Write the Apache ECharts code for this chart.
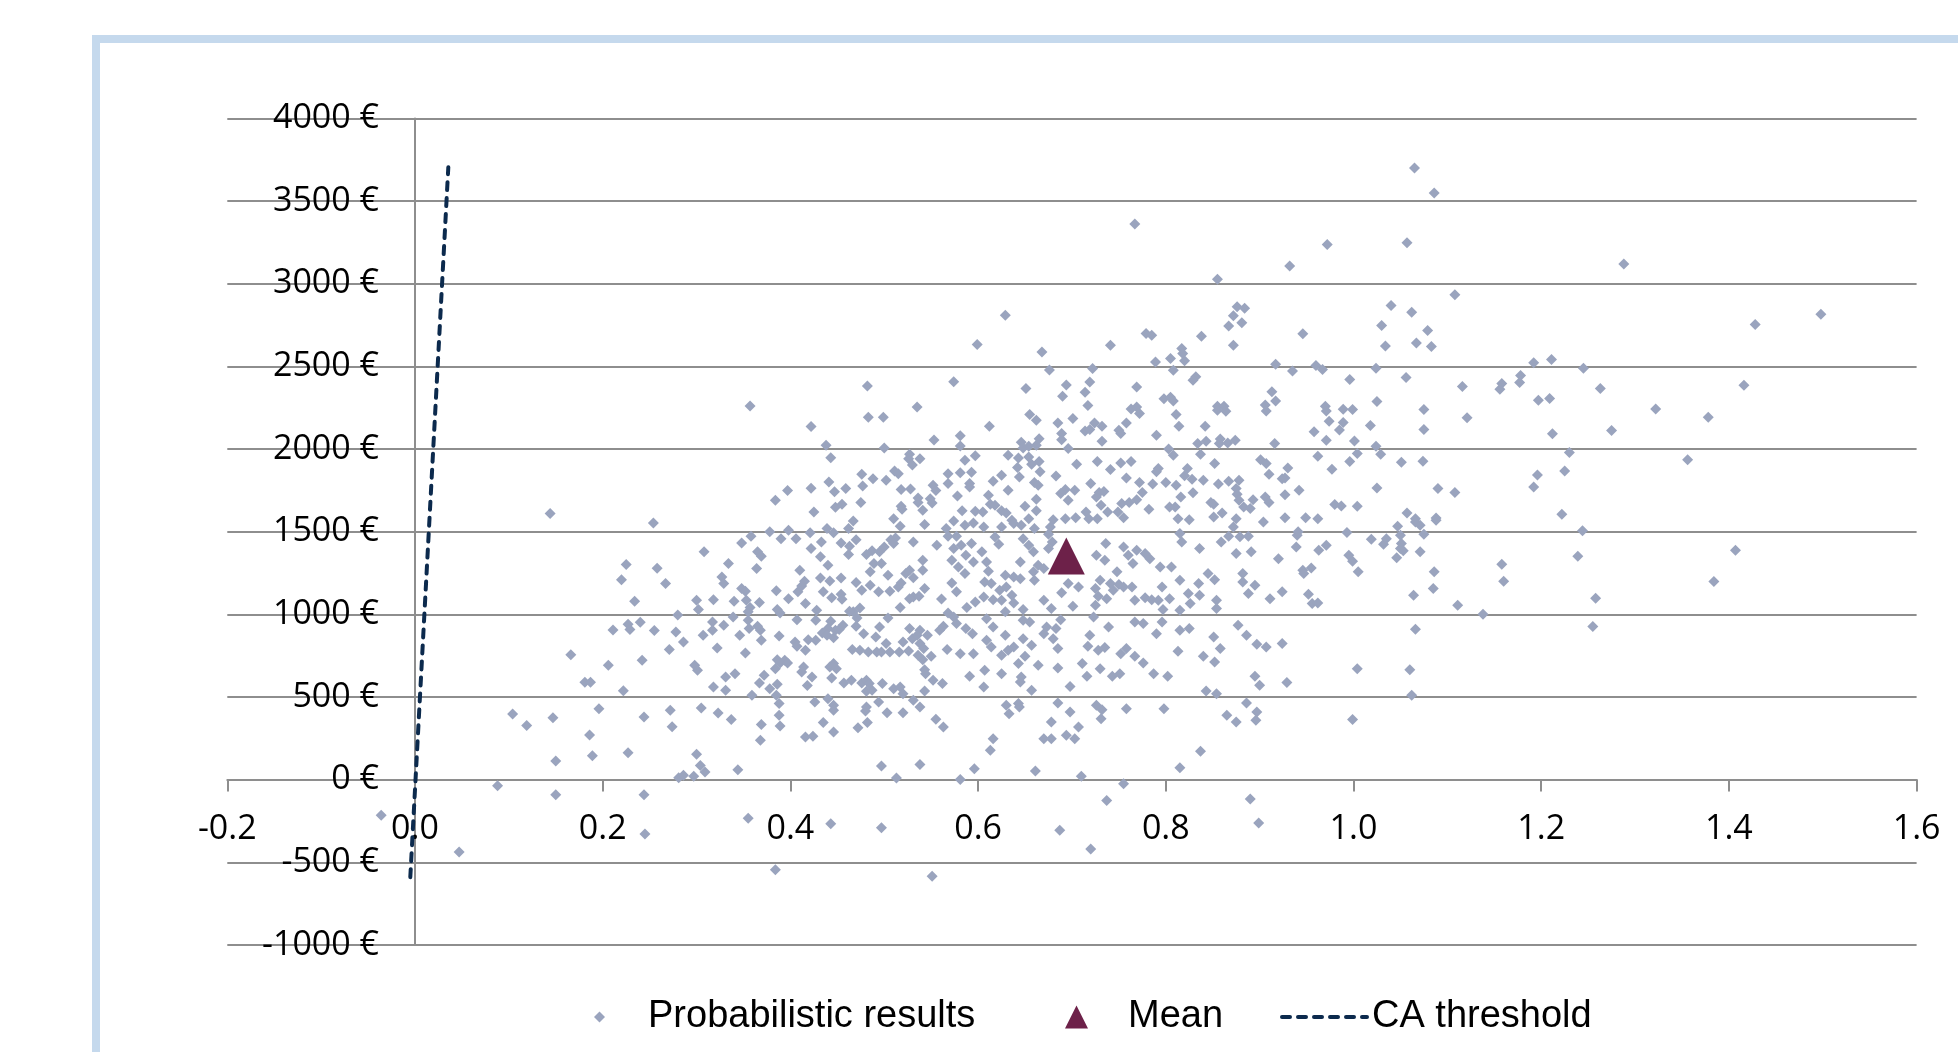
<!DOCTYPE html>
<html>
<head>
<meta charset="utf-8">
<title>Probabilistic results</title>
<script src="https://cdn.jsdelivr.net/npm/echarts@6/dist/echarts.min.js"></script>
<style>
  html, body { margin: 0; padding: 0; background: #fff; }
  #chart { width: 1958px; height: 1052px; }
</style>
</head>
<body>
<div id="chart"></div>
<script>
// one point per simulation run: [incremental effect, incremental cost]
const probResults = [
  [0.144,1610],[0.254,1552],[0.225,1301],[0.258,1279],[0.220,1210],[0.267,1186],[0.234,1079],[0.211,906],[0.227,940],[0.229,908],
  [0.240,952],[0.255,902],[0.280,996],[0.278,893],[0.271,787],[0.166,756],[0.242,722],[0.206,692],[0.181,589],[0.187,589],
  [0.222,538],[0.196,429],[0.104,397],[0.119,328],[0.147,375],[0.186,270],[0.244,379],[0.272,419],[0.274,320],[0.150,112],
  [0.189,145],[0.227,163],[0.281,12],[0.088,-37],[0.150,-91],[0.244,-91],[0.245,-329],[0.047,-438],[-0.036,-215],
  [0.599,2633],[0.574,2407],[0.482,2382],[0.357,2261],[0.535,2255],[0.483,2193],[0.499,2193],[0.422,2136],[0.581,2080],[0.553,2055],
  [0.438,2023],[0.500,2007],[0.581,2019],[0.443,1948],[0.527,1969],[0.526,1942],[0.538,1942],[0.597,1959],[0.586,1932],[0.530,1904],
  [0.476,1848],[0.511,1868],[0.515,1851],[0.568,1851],[0.581,1856],[0.593,1860],[0.488,1821],[0.502,1811],[0.441,1801],[0.568,1791],
  [0.591,1791],[0.591,1771],[0.477,1777],[0.422,1763],[0.459,1761],[0.397,1749],[0.447,1741],[0.518,1755],[0.528,1759],[0.552,1781],
  [0.555,1749],[0.384,1690],[0.578,1716],[0.475,1676],[0.536,1704],[0.536,1676],[0.549,1700],[0.551,1674],[0.448,1648],[0.455,1666],
  [0.518,1654],[0.519,1636],[0.425,1619],[0.541,1630],[0.583,1626],[0.597,1624],[0.467,1565],[0.510,1579],[0.574,1565],
  [0.767,3361],[0.855,3028],[0.876,2861],[0.884,2852],[0.872,2806],[0.629,2810],[0.867,2744],[0.881,2764],[0.779,2699],[0.785,2689],
  [0.838,2683],[0.741,2628],[0.872,2628],[0.668,2588],[0.817,2608],[0.818,2578],[0.820,2534],[0.805,2548],[0.789,2526],[0.917,2513],
  [0.676,2479],[0.722,2487],[0.808,2477],[0.832,2437],[0.829,2417],[0.719,2406],[0.694,2388],[0.651,2366],[0.769,2376],[0.714,2344],
  [0.690,2320],[0.913,2346],[0.798,2304],[0.805,2314],[0.808,2291],[0.917,2291],[0.717,2263],[0.763,2243],[0.769,2255],[0.772,2215],
  [0.855,2259],[0.862,2259],[0.855,2235],[0.864,2229],[0.906,2267],[0.907,2231],[0.655,2209],[0.662,2174],[0.701,2185],[0.811,2209],
  [0.685,2158],[0.612,2138],[0.724,2158],[0.732,2138],[0.758,2158],[0.814,2138],[0.842,2138],[0.714,2110],[0.719,2118],[0.750,2114],
  [0.752,2094],[0.689,2094],[0.689,2057],[0.790,2084],[0.665,2063],[0.732,2047],[0.834,2033],[0.843,2047],[0.858,2061],[0.857,2033],
  [0.866,2037],[0.874,2053],[0.916,2033],[0.646,2041],[0.648,2007],[0.654,2017],[0.662,2023],[0.696,2003],[0.803,2001],[0.808,1963],
  [0.837,1969],[0.632,1963],[0.643,1946],[0.654,1952],[0.657,1908],[0.665,1924],[0.705,1908],[0.727,1924],[0.752,1916],[0.763,1924],
  [0.852,1912],[0.901,1936],[0.907,1912],[0.642,1888],[0.666,1862],[0.683,1837],[0.741,1876],[0.758,1825],[0.792,1882],[0.790,1862],
  [0.823,1882],[0.820,1839],[0.828,1817],[0.910,1847],[0.644,1831],[0.625,1841],[0.616,1805],[0.660,1797],[0.664,1781],[0.720,1791],
  [0.772,1797],[0.786,1789],[0.800,1797],[0.811,1781],[0.840,1811],[0.856,1789],[0.867,1805],[0.878,1811],[0.875,1761],[0.632,1751],
  [0.611,1720],[0.693,1755],[0.688,1731],[0.703,1751],[0.729,1737],[0.734,1743],[0.726,1710],[0.775,1737],[0.816,1710],[0.829,1735],
  [0.876,1726],[0.878,1690],[0.893,1694],[0.906,1710],[0.910,1676],[0.662,1696],[0.696,1690],[0.613,1666],[0.618,1660],[0.650,1654],
  [0.731,1660],[0.753,1670],[0.761,1676],[0.769,1694],[0.804,1650],[0.810,1650],[0.848,1676],[0.851,1666],[0.883,1650],[0.890,1640],
  [0.625,1626],[0.630,1613],[0.662,1626],[0.715,1619],[0.738,1619],[0.749,1619],[0.782,1636],[0.860,1613],[0.605,1619],[0.654,1579],
  [0.680,1573],[0.693,1579],[0.704,1585],[0.718,1579],[0.727,1579],[0.755,1585],[0.813,1579],[0.825,1573],[0.851,1589],[0.875,1579],
  [0.636,1570],
  [1.065,3700],[1.086,3549],[0.972,3238],[1.057,3248],[0.932,3107],[1.108,2933],[1.040,2869],[1.062,2828],[1.030,2748],[1.079,2717],
  [0.946,2697],[1.067,2641],[1.034,2624],[1.083,2620],[0.935,2473],[0.960,2505],[0.967,2481],[1.024,2489],[0.996,2421],[1.056,2433],
  [1.116,2378],[1.156,2362],[1.158,2396],[1.177,2402],[1.178,2445],[1.192,2522],[1.211,2542],[1.025,2287],[1.197,2295],[1.209,2306],
  [0.970,2259],[0.971,2231],[0.989,2241],[0.999,2239],[1.075,2239],[1.121,2189],[0.974,2168],[0.989,2160],[0.985,2116],[1.018,2142],
  [0.958,2104],[1.075,2118],[1.212,2092],[0.971,2053],[1.001,2049],[1.024,2017],[1.029,1969],[1.004,1973],[0.962,1957],[0.996,1924],
  [1.051,1920],[1.074,1926],[1.230,1979],[0.930,1886],[0.977,1878],[0.924,1821],[0.927,1825],[0.942,1751],[0.927,1724],[1.025,1765],
  [1.090,1761],[1.108,1737],[1.192,1771],[1.196,1843],[1.225,1868],[0.980,1664],[0.987,1656],[1.004,1654],[1.057,1613],[1.222,1605],
  [0.927,1585],[0.949,1585],[0.962,1579],[1.066,1579],[1.088,1583],
  [1.288,3119],[1.428,2754],[1.498,2816],[1.245,2489],[1.263,2366],[1.416,2386],[1.322,2243],[1.378,2193],[1.275,2112],[1.356,1936],
  [0.378,1499],[0.398,1509],[0.390,1458],[0.406,1458],[0.421,1493],[0.439,1519],[0.446,1493],[0.462,1519],[0.358,1473],[0.348,1432],
  [0.308,1378],[0.433,1438],[0.454,1432],[0.470,1452],[0.463,1412],[0.422,1398],[0.462,1362],[0.481,1362],[0.487,1384],[0.495,1378],
  [0.500,1408],[0.507,1452],[0.512,1462],[0.517,1533],[0.510,1428],[0.531,1438],[0.543,1543],[0.556,1418],[0.568,1473],[0.566,1519],
  [0.577,1473],[0.586,1539],[0.595,1553],[0.582,1418],[0.593,1428],[0.574,1398],
  [0.365,1378],[0.369,1352],[0.334,1307],[0.364,1277],[0.327,1226],[0.329,1186],[0.348,1156],[0.352,1140],[0.385,1142],[0.410,1267],
  [0.415,1200],[0.412,1172],[0.408,1136],[0.432,1348],[0.440,1297],[0.432,1220],[0.442,1202],[0.454,1220],[0.435,1136],[0.454,1121],
  [0.470,1192],[0.489,1307],[0.497,1307],[0.485,1257],[0.485,1176],[0.476,1146],[0.494,1136],[0.506,1140],[0.504,1237],[0.515,1166],
  [0.518,1190],[0.523,1247],[0.527,1267],[0.531,1222],[0.541,1327],[0.541,1267],[0.543,1156],[0.531,1105],[0.537,1109],[0.527,1095],
  [0.517,1041],[0.474,1039],[0.467,1015],[0.561,1093],[0.572,1327],[0.579,1287],[0.586,1247],[0.572,1190],[0.577,1136],[0.587,1358],
  [0.595,1317],[0.597,1075],[0.588,1041],[0.300,1085],[0.302,1029],[0.318,1089],[0.340,1079],[0.353,1085],[0.367,1071],[0.357,1041],
  [0.355,1015],[0.398,1095],[0.416,1065],[0.386,1029],[0.428,1025],[0.389,1008],[0.444,1101],[0.455,1091],
  [0.286,833],[0.307,873],[0.317,954],[0.317,904],[0.329,934],[0.339,984],[0.346,873],[0.322,797],[0.352,766],[0.355,964],
  [0.356,914],[0.368,903],[0.365,928],[0.369,843],[0.388,869],[0.407,968],[0.405,833],[0.407,807],[0.419,847],[0.416,783],
  [0.427,964],[0.427,843],[0.434,887],[0.440,914],[0.443,958],[0.439,873],[0.446,859],[0.448,903],[0.456,934],[0.452,908],
  [0.463,1019],[0.470,928],[0.471,978],[0.478,883],[0.466,787],[0.474,783],[0.483,772],[0.491,863],[0.492,772],[0.497,772],
  [0.495,924],[0.504,978],[0.502,823],[0.506,772],[0.520,833],[0.527,914],[0.530,853],[0.538,903],[0.535,873],[0.546,873],
  [0.538,823],[0.542,793],[0.536,752],[0.541,726],[0.550,746],[0.526,778],[0.516,772],[0.567,787],[0.559,903],[0.563,928],
  [0.568,1008],[0.574,984],[0.577,944],[0.587,914],[0.594,883],[0.595,762],[0.581,762],
  [0.298,692],[0.301,661],[0.318,560],[0.331,621],[0.331,540],[0.341,641],[0.367,585],[0.372,631],[0.378,550],[0.359,510],
  [0.386,726],[0.384,671],[0.389,706],[0.394,722],[0.397,706],[0.386,577],[0.385,510],[0.414,682],[0.412,651],[0.418,570],
  [0.423,621],[0.444,615],[0.442,682],[0.449,671],[0.446,702],[0.457,585],[0.465,601],[0.476,585],[0.481,601],[0.484,581],
  [0.481,534],[0.487,540],[0.498,581],[0.510,550],[0.517,560],[0.520,520],[0.543,665],[0.544,641],[0.552,601],[0.562,581],
  [0.543,536],[0.591,625],[0.531,480],
  [0.305,433],[0.323,403],[0.337,363],[0.388,460],[0.388,389],[0.389,324],[0.369,334],[0.368,238],[0.416,258],[0.424,262],
  [0.426,470],[0.435,345],[0.440,490],[0.446,450],[0.446,419],[0.446,288],[0.472,314],[0.480,415],[0.481,439],[0.482,345],
  [0.494,470],[0.503,405],[0.520,405],[0.538,439],[0.555,365],[0.563,318],[0.300,153],[0.304,86],[0.309,46],[0.297,20],
  [0.286,26],[0.344,60],[0.497,82],[0.538,92],[0.513,10],[0.581,0],[0.596,66],
  [0.355,-233],[0.443,-267],[0.497,-291],[0.384,-545],[0.551,-584],
  [0.606,1529],[0.625,1529],[0.638,1549],[0.646,1539],[0.660,1519],[0.677,1529],[0.675,1485],[0.679,1438],[0.675,1398],[0.664,1297],
  [0.645,1317],[0.618,1468],[0.622,1424],[0.609,1317],[0.611,1261],[0.604,1378],[0.648,1458],[0.654,1418],[0.659,1378],[0.659,1257],
  [0.660,1206],[0.670,1277],[0.629,1237],[0.638,1226],[0.645,1216],[0.607,1196],[0.614,1186],[0.623,1146],[0.630,1166],[0.606,1105],
  [0.616,1089],[0.625,1085],[0.629,1015],[0.638,1069],[0.636,1115],[0.648,1029],[0.670,1085],[0.678,1035],[0.689,1130],[0.696,1186],
  [0.707,1166],[0.701,1049],[0.688,968],[0.683,914],[0.673,924],[0.670,883],[0.648,964],[0.655,954],[0.609,974],[0.616,924],
  [0.629,873],[0.638,803],[0.648,853],[0.657,813],[0.609,843],[0.614,803],[0.625,752],[0.632,783],[0.643,702],[0.650,746],
  [0.664,692],[0.685,793],[0.685,676],[0.680,853],[0.607,661],[0.625,641],[0.646,621],[0.645,591],[0.657,540],[0.606,560],
  [0.698,564],[0.716,625],[0.711,702],[0.717,807],[0.728,783],[0.735,799],[0.719,873],[0.723,984],[0.725,1055],[0.728,1109],
  [0.725,1156],[0.737,1095],[0.741,1186],[0.744,1146],[0.739,924],[0.730,671],[0.743,625],[0.751,641],[0.752,762],[0.758,793],
  [0.767,746],[0.776,706],[0.787,641],[0.802,625],[0.813,776],[0.767,954],[0.776,944],[0.790,883],[0.796,954],[0.815,903],
  [0.825,914],[0.815,1025],[0.797,1029],[0.785,1089],[0.792,1085],[0.778,1101],[0.767,1085],[0.755,1166],[0.764,1166],[0.750,1180],
  [0.730,1206],[0.726,1358],[0.736,1428],[0.735,1327],[0.748,1257],[0.755,1408],[0.760,1358],[0.765,1307],[0.769,1388],[0.778,1368],
  [0.783,1337],[0.794,1287],[0.806,1287],[0.796,1166],[0.804,1095],[0.815,1206],[0.824,1126],[0.826,1065],[0.836,1115],[0.835,1186],
  [0.817,1438],[0.815,1489],[0.836,1398],[0.845,1247],[0.852,1210],[0.854,1085],[0.854,1035],[0.859,1438],[0.867,1473],[0.875,1368],
  [0.879,1469],[0.888,1473],[0.891,1378],[0.882,1247],[0.882,1196],[0.895,1176],[0.888,1126],[0.911,1095],[0.920,1337],[0.877,934],
  [0.886,873],[0.897,819],[0.907,803],[0.851,863],[0.858,793],[0.840,746],[0.852,712],[0.872,1529],[0.904,1559],[0.843,536],
  [0.854,520],[0.895,625],[0.900,571],[0.698,409],[0.685,464],[0.678,349],[0.670,248],[0.678,248],[0.694,268],[0.703,248],
  [0.707,318],[0.726,450],[0.732,423],[0.731,369],[0.758,429],[0.798,429],[0.630,450],[0.643,460],[0.633,399],[0.644,439],
  [0.616,248],[0.613,177],[0.661,52],[0.710,20],[0.755,-25],[0.737,-126],[0.815,72],[0.837,171],[0.865,389],[0.875,349],
  [0.886,464],[0.897,409],[0.896,359],[0.890,-117],[0.899,-263],[0.687,-307],[0.720,-420],
  [0.940,1479],[0.941,1499],[0.939,1408],[0.963,1388],[0.971,1418],[0.946,1267],[0.947,1247],[0.955,1281],[0.924,1136],[0.952,1121],
  [0.956,1065],[0.962,1069],[0.993,1495],[0.995,1358],[0.999,1321],[1.005,1257],[1.019,1454],[1.032,1424],[1.035,1458],[1.047,1533],
  [1.050,1479],[1.051,1428],[1.050,1398],[1.053,1384],[1.046,1343],[1.066,1559],[1.071,1539],[1.075,1485],[1.071,1378],[1.086,1257],
  [1.085,1156],[1.064,1115],[1.111,1055],[1.138,1000],[1.066,910],[1.158,1303],[1.160,1200],[0.924,823],[0.929,587],[1.004,671],
  [1.060,665],[1.062,510],[0.999,363],[1.088,1569],[1.239,1352],
  [1.244,1505],[1.407,1388],[1.384,1198],[1.258,1097],[1.255,926]
];

const meanPoint = [0.694, 1353];
// cost-effectiveness acceptability threshold, two end points
const thresholdLine = [[-0.005, -590], [0.0355, 3705]];

const xAxisRange = [-0.2, 1.6, 0.2]; // min, max, step
const yAxisRange = [-1000, 4000, 500];
const seriesNames = ['Probabilistic results', 'Mean', 'CA threshold'];

const axisColor = '#8e8e8e';
const threshColor = '#0c2a4d';
const labelFont = { fontFamily: 'Open Sans', fontSize: 34, color: '#000' };
const legendFont = { fontFamily: 'Liberation Sans', fontSize: 38, color: '#000' };
const dashStyle = { color: threshColor, width: 4, type: [8, 8], cap: 'round' };

// grid box in px; the axes sit on the zero lines, moved in with offset
const gridBox = { left: 227.3, right: 41.4, top: 118.5, bottom: 107.1 };
const plotW = 1958 - gridBox.left - gridBox.right;
const plotH = 1052 - gridBox.top - gridBox.bottom;
const xZeroShift = plotW * (0 - xAxisRange[0]) / (xAxisRange[1] - xAxisRange[0]);
const yZeroShift = plotH * (0 - yAxisRange[0]) / (yAxisRange[1] - yAxisRange[0]);

const chart = echarts.init(document.getElementById('chart'));

const option = {
  animation: false,
  backgroundColor: '#fff',
  // light blue frame of the original chart area
  graphic: [{
    type: 'rect',
    silent: true,
    shape: { x: 96, y: 39, width: 2400, height: 1400 },
    style: { fill: 'none', stroke: '#c5d9ed', lineWidth: 8 }
  }],
  grid: {
    left: gridBox.left, right: gridBox.right, top: gridBox.top, bottom: gridBox.bottom,
    containLabel: false,
    outerBoundsMode: 'none'
  },
  legend: [
    {
      data: [seriesNames[0]], left: 594, top: 998, padding: 0,
      itemWidth: 11, itemHeight: 11,
      textStyle: Object.assign({ padding: [0, 0, 0, 38] }, legendFont)
    },
    {
      data: [seriesNames[1]], left: 1065, top: 998, padding: 0,
      itemWidth: 23, itemHeight: 23,
      textStyle: Object.assign({ padding: [0, 0, 0, 35] }, legendFont)
    },
    {
      data: [seriesNames[2]], left: 1280, top: 998, padding: 0,
      itemWidth: 85, itemHeight: 6,
      itemStyle: { opacity: 0 },
      lineStyle: dashStyle,
      textStyle: legendFont
    }
  ],
  xAxis: {
    type: 'value',
    min: xAxisRange[0], max: xAxisRange[1], interval: xAxisRange[2],
    offset: -yZeroShift,
    axisLine: { onZero: false, lineStyle: { color: axisColor, width: 2 } },
    axisTick: { show: true, length: 12, lineStyle: { color: axisColor, width: 2 } },
    axisLabel: Object.assign({
      margin: 33,
      showMinLabel: true, showMaxLabel: true,
      formatter: v => v.toFixed(1)
    }, labelFont),
    splitLine: { show: false }
  },
  yAxis: {
    type: 'value',
    min: yAxisRange[0], max: yAxisRange[1], interval: yAxisRange[2],
    offset: -xZeroShift,
    axisLine: { show: true, onZero: false, lineStyle: { color: axisColor, width: 2 } },
    axisTick: { show: true, length: 12, lineStyle: { color: axisColor, width: 2 } },
    axisLabel: Object.assign({
      margin: 36,
      showMinLabel: true, showMaxLabel: true,
      formatter: v => v + ' €'
    }, labelFont),
    splitLine: { show: true, lineStyle: { color: axisColor, width: 2 } }
  },
  series: [
    {
      name: seriesNames[0],
      type: 'scatter',
      symbol: 'diamond',
      symbolSize: 11,
      itemStyle: { color: '#9aa4be', opacity: 1 },
      data: probResults,
      z: 2
    },
    {
      name: seriesNames[1],
      type: 'scatter',
      symbol: 'triangle',
      symbolSize: 37,
      itemStyle: { color: '#6d2149', opacity: 1 },
      data: [meanPoint],
      z: 3
    },
    {
      name: seriesNames[2],
      type: 'line',
      symbol: 'none',
      data: thresholdLine,
      itemStyle: { color: threshColor },
      lineStyle: dashStyle,
      z: 4
    }
  ]
};

chart.setOption(option);
</script>
</body>
</html>
